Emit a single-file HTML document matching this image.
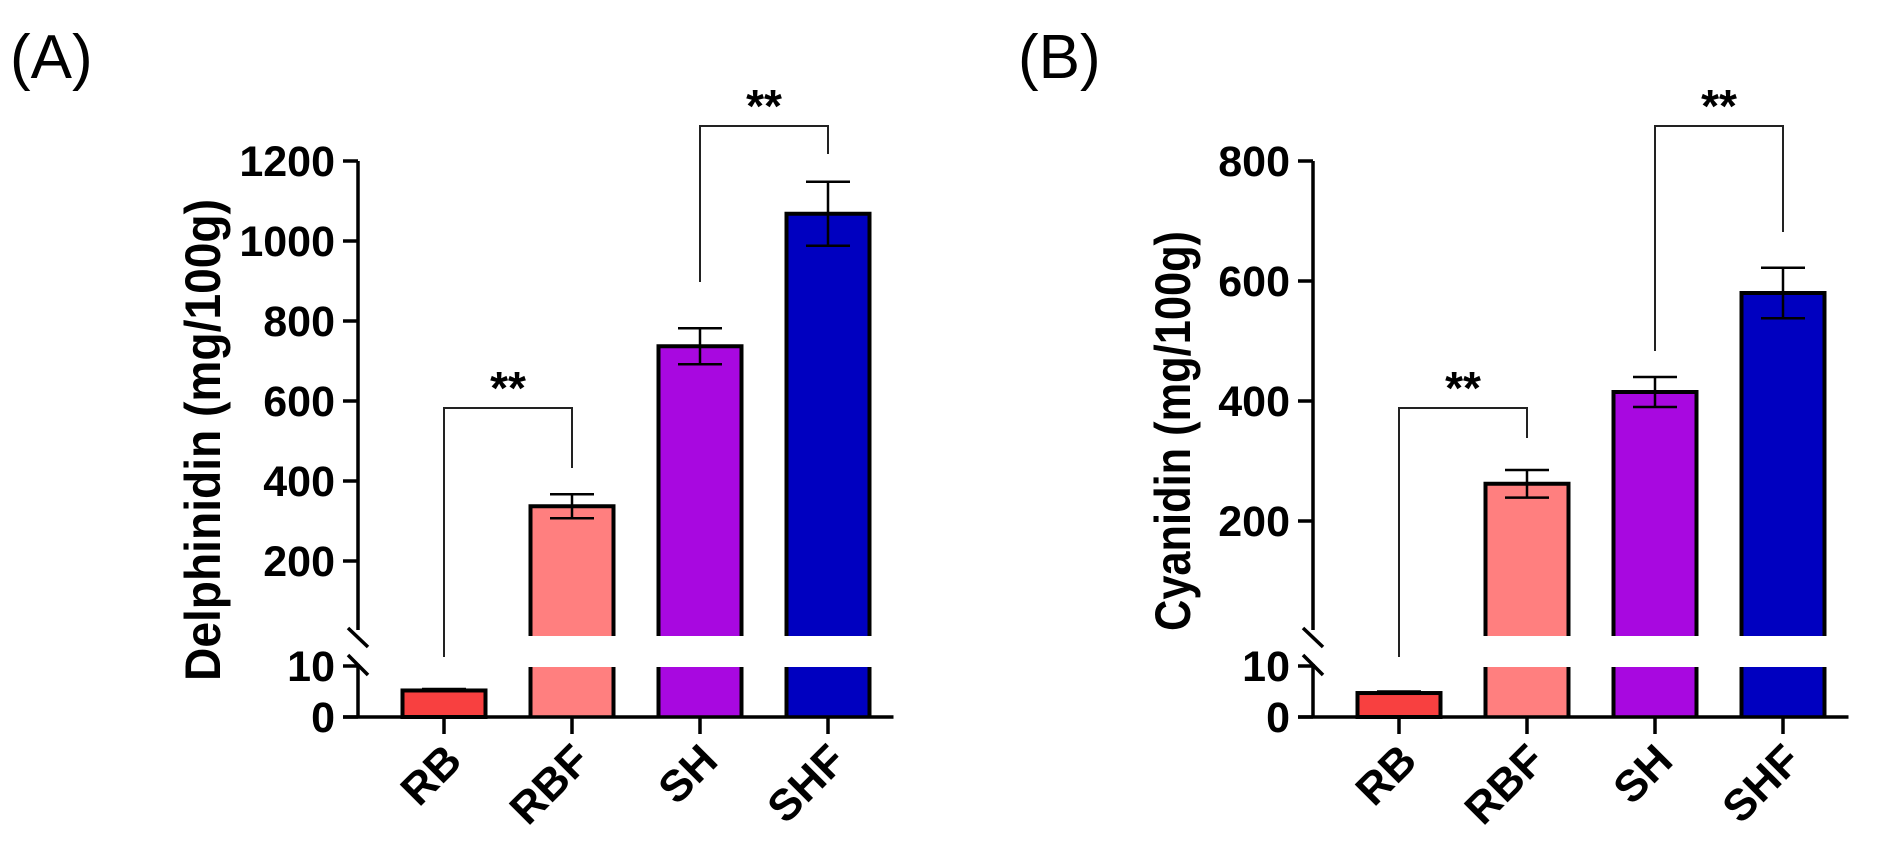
<!DOCTYPE html>
<html><head><meta charset="utf-8"><style>
html,body{margin:0;padding:0;background:#fff}
svg{display:block}
text{font-family:"Liberation Sans",Arial,sans-serif}
</style></head><body>
<svg id="fig" width="1888" height="855" viewBox="0 0 1888 855" xmlns="http://www.w3.org/2000/svg">
<text x="10" y="78" font-size="62">(A)</text>
<text x="1018" y="78" font-size="62">(B)</text>
<g id="pa"></g>
<g id="pb"></g>
</svg>
<script>
const categories = ["RB","RBF","SH","SHF"];
const colors = ["#f84040","#ff7f7f","#a808e0","#0000c0"];
const delphValues = [5.2, 337, 737, 1068];
const delphErrors = [0.3, 30, 45, 80];
const delphTicks = [200,400,600,800,1000,1200];
const cyanValues = [4.7, 262, 415, 580];
const cyanErrors = [0.3, 23, 25, 42];
const cyanTicks = [200,400,600,800];
const lowerTicks = [0,10];
const NS="http://www.w3.org/2000/svg";
function mk(parent,tag,attrs){const e=document.createElementNS(NS,tag);for(const k in attrs)e.setAttribute(k,attrs[k]);parent.appendChild(e);return e;}

function drawPanel(g, ox, values, errors, ticks, ymaxUpper, title){
  const axisX = 358+ox;
  const upperZero = 641, upperTopY = 161;
  const upperScale = (upperZero-upperTopY)/ymaxUpper;
  const yU = v => upperZero - v*upperScale;
  const yL = v => 717 - v*5.1;
  const gapTop = 636, gapBot = 667;
  const xC = i => 444 + ox + i*128;
  const bw = 83;
  values.forEach((v,i)=>{
    const cx=xC(i), x0=cx-bw/2;
    if (v<=10){
      const r=mk(g,'rect',{x:x0,y:yL(v),width:bw,height:717-yL(v),fill:colors[i],stroke:'#000','stroke-width':4});
      
      
      const eb=mk(g,'line',{x1:cx-22,x2:cx+22,y1:yL(v+errors[i]),y2:yL(v+errors[i]),stroke:'#000','stroke-width':2.5});
      
      
    } else {
      const top=yU(v);
      const bg=mk(g,'g',{});
      
      
      mk(bg,'rect',{x:x0,y:top,width:bw,height:gapTop-top,fill:colors[i]});
      mk(bg,'rect',{x:x0,y:gapBot,width:bw,height:717-gapBot,fill:colors[i]});
      mk(bg,'path',{d:`M${x0},${gapTop}V${top}H${x0+bw}V${gapTop}`,fill:'none',stroke:'#000','stroke-width':4});
      mk(bg,'path',{d:`M${x0},${gapBot}V717M${x0+bw},${gapBot}V717`,fill:'none',stroke:'#000','stroke-width':4});
      const eg=mk(g,'g',{stroke:'#000','stroke-width':2.5});
      
      
      const hi=yU(v+errors[i]), lo=yU(v-errors[i]);
      mk(eg,'line',{x1:cx,x2:cx,y1:hi,y2:lo});
      mk(eg,'line',{x1:cx-22,x2:cx+22,y1:hi,y2:hi});
      mk(eg,'line',{x1:cx-22,x2:cx+22,y1:lo,y2:lo});
    }
  });
  const ax=mk(g,'g',{stroke:'#000','stroke-width':3.5,fill:'none'});
  
  
  mk(ax,'line',{x1:axisX,x2:axisX,y1:upperTopY,y2:630});
  mk(ax,'line',{x1:axisX-10,y1:628,x2:axisX+10,y2:647});
  mk(ax,'line',{x1:axisX-10,y1:655,x2:axisX+10,y2:675});
  mk(ax,'line',{x1:axisX,x2:axisX,y1:664,y2:717});
  ticks.forEach(t=>{
    mk(ax,'line',{x1:axisX-15,x2:axisX,y1:yU(t),y2:yU(t)});
    const tx=mk(g,'text',{x:axisX-23,y:yU(t)+15,'font-size':43,'font-weight':'bold','text-anchor':'end'});
    
    
    tx.textContent=t;
  });
  lowerTicks.forEach(t=>{
    mk(ax,'line',{x1:axisX-15,x2:axisX,y1:yL(t),y2:yL(t)});
    const tx=mk(g,'text',{x:axisX-23,y:yL(t)+15,'font-size':43,'font-weight':'bold','text-anchor':'end'});
    
    
    tx.textContent=t;
  });
  const xa=mk(g,'g',{stroke:'#000','stroke-width':3.5});
  
  
  mk(xa,'line',{x1:axisX-15,x2:xC(3)+bw/2+24,y1:717,y2:717});
  categories.forEach((c,i)=>{
    mk(xa,'line',{x1:xC(i),x2:xC(i),y1:717,y2:734});
    const tx=mk(g,'text',{x:0,y:0,'font-size':44,'font-weight':'bold','text-anchor':'end',transform:`translate(${xC(i)+20},${763}) rotate(-45)`});
    
    
    tx.textContent=c;
  });
  const tt=mk(g,'text',{x:0,y:0,'font-size':50,'font-weight':'bold','text-anchor':'middle',transform:`translate(${title.x},${title.cy}) rotate(-90)`,textLength:title.len,lengthAdjust:'spacingAndGlyphs'});
  
  
  tt.textContent=title.text;
  function bracket(i,j,leftEnd,rightEnd,topY,name){
    const bg=mk(g,'g',{});
    
    
    mk(bg,'path',{d:`M${xC(i)},${leftEnd}V${topY}H${xC(j)}V${rightEnd}`,fill:'none',stroke:'#222','stroke-width':2});
    const s=mk(bg,'text',{x:(xC(i)+xC(j))/2,y:topY-4,'font-size':46,'font-weight':'bold','text-anchor':'middle'});
    s.textContent='**';
  }
  return {bracket,yU,yL};
}
const A=drawPanel(document.getElementById('pa'),0,delphValues,delphErrors,delphTicks,1200,{x:220,cy:440,len:482,text:'Delphinidin (mg/100g)'});
A.bracket(0,1,657,468,408,'significance-rb-rbf');
A.bracket(2,3,282,154,126,'significance-sh-shf');
const B=drawPanel(document.getElementById('pb'),955,cyanValues,cyanErrors,cyanTicks,800,{x:1190,cy:431,len:400,text:'Cyanidin (mg/100g)'});
B.bracket(0,1,657,438,408,'significance-rb-rbf');
B.bracket(2,3,351,232,126,'significance-sh-shf');
</script>
</body></html>
